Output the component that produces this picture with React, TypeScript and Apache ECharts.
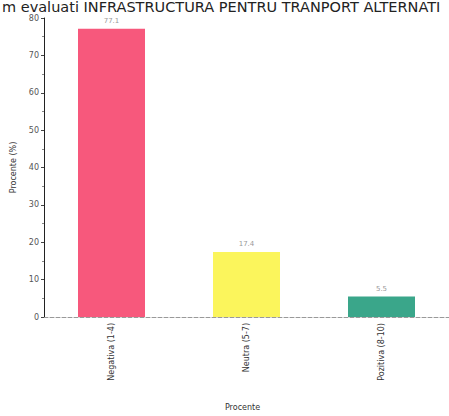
import React, { useEffect, useRef } from "react";
import * as echarts from "echarts";

const titleText = "m evaluati INFRASTRUCTURA PENTRU TRANPORT ALTERNATI";
const categories = ["Negativa (1-4)", "Neutra (5-7)", "Pozitiva (8-10)"];
const values = [77.1, 17.4, 5.5];
const barColors = ["#f7587c", "#fbf55c", "#3aa68a"];
const yTicks = { min: 0, max: 80, interval: 10 };
const yName = "Procente (%)";
const xName = "Procente";

export default function App() {
  const ref = useRef<HTMLDivElement>(null);
  useEffect(() => {
    if (!ref.current) return;
    const chart = echarts.init(ref.current, null, { renderer: "svg" });
    chart.setOption({
      animation: false,
      backgroundColor: "#ffffff",
      textStyle: { fontFamily: "DejaVu Sans" },
      title: {
        text: titleText,
        left: 2,
        top: 0,
        padding: 0,
        textStyle: { fontSize: 14.5, lineHeight: 13, fontWeight: "normal", color: "#222", fontFamily: "DejaVu Sans" },
      },
      grid: { left: 44, top: 18, width: 411, bottom: 94 },
      xAxis: {
        type: "category",
        data: categories,
        name: xName,
        nameLocation: "middle",
        nameGap: 86,
        nameTextStyle: { fontSize: 8, color: "#333", padding: [0, 8, 0, 0] },
        axisLine: { show: true, lineStyle: { color: "#999", type: "dashed", width: 1 } },
        axisTick: { show: false },
        axisLabel: { rotate: 90, fontSize: 8, color: "#333", margin: 6 },
      },
      yAxis: {
        type: "value",
        min: yTicks.min,
        max: yTicks.max,
        interval: yTicks.interval,
        name: yName,
        nameLocation: "middle",
        nameGap: 24,
        nameTextStyle: { fontSize: 8, color: "#333" },
        axisLine: { show: true, lineStyle: { color: "#222", width: 1 } },
        axisTick: { show: true, length: 3, lineStyle: { color: "#444" } },
        minorTick: { show: true, splitNumber: 2, length: 2, lineStyle: { color: "#888" } },
        splitLine: { show: false },
        axisLabel: { fontSize: 8, color: "#555", margin: 5, verticalAlign: "middle" },
      },
      series: [
        {
          type: "bar",
          data: values.map((v, i) => ({ value: v, itemStyle: { color: barColors[i] } })),
          barWidth: 67,
          label: { show: true, position: "top", fontSize: 7, color: "#999", distance: 4 },
        },
      ],
    });
    return () => chart.dispose();
  }, []);
  return <div ref={ref} style={{ position: "fixed", left: 0, top: 0, width: 449, height: 416 }} />;
}
